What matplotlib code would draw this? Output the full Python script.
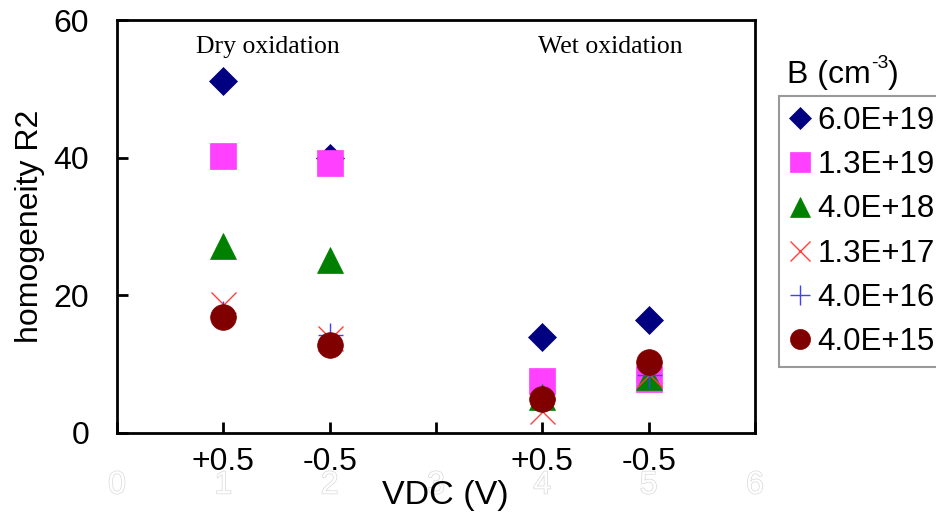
import matplotlib
matplotlib.use("Agg")
import matplotlib.pyplot as plt
import matplotlib.patheffects as pe

# x positions: 1,2 dry oxidation; 4,5 wet oxidation
x_pos = [1, 2, 4, 5]
x_labels = ["+0.5", "-0.5", "+0.5", "-0.5"]
hidden_ticks = [0, 1, 2, 3, 4, 5, 6]

series_names = ["6.0E+19", "1.3E+19", "4.0E+18", "1.3E+17", "4.0E+16", "4.0E+15"]
r2_6e19 = [51.2, 39.9, 13.9, 16.4]
r2_1p3e19 = [40.3, 39.2, 7.5, 7.8]
r2_4e18 = [27.2, 25.2, 5.2, 8.2]
r2_1p3e17 = [18.8, 13.8, 3.2, 8.6]
r2_4e16 = [17.4, 14.2, 5.0, 8.4]
r2_4e15 = [16.8, 12.8, 4.9, 10.3]

values = [r2_6e19, r2_1p3e19, r2_4e18, r2_1p3e17, r2_4e16, r2_4e15]
markers = ["D", "s", "^", "x", "+", "o"]
colors = ["#000080", "#FF40FF", "#008000", "#FF4040", "#4040FF", "#800000"]
sizes = [14, 18.5, 18.5, 18, 18, 18.5]

FS = 23

plt.rcParams["font.family"] = ["Liberation Sans", "DejaVu Sans"]

fig = plt.figure(figsize=(9.36, 5.15), dpi=100)
ax = fig.add_axes([117 / 936, 1 - 433 / 515, (755 - 117) / 936, (433 - 20) / 515])

for name, vals, m, c, s in zip(series_names, values, markers, colors, sizes):
    filled = m not in ("x", "+")
    ax.plot(x_pos, vals, linestyle="none", marker=m, markersize=s,
            color=c, markeredgewidth=1.0 if not filled else 0.5,
            markeredgecolor=c, label=name)

ax.set_xlim(0, 6)
ax.set_ylim(0, 60)
ax.set_yticks([0, 20, 40, 60])
ax.set_xticks(hidden_ticks)
ax.set_xticklabels([str(t) for t in hidden_ticks], color="white",
                   path_effects=[pe.withStroke(linewidth=1.0, foreground="#d8d8d8")])
ax.tick_params(axis="both", direction="in", length=8, width=2, labelsize=FS)
ax.tick_params(axis="x", pad=27)
ax.tick_params(axis="y", pad=20)
for sp in ax.spines.values():
    sp.set_linewidth(2)

for xp, lbl in zip(x_pos, x_labels):
    ax.text(xp, -0.07, lbl, transform=ax.get_xaxis_transform(),
            ha="center", va="center", fontsize=FS)

ax.set_xlabel("VDC (V)", fontsize=24.5)
ax.xaxis.set_label_coords((445 - 117) / 638, -(480 - 433) / 413)
ax.set_ylabel("homogeneity R2", fontsize=FS, labelpad=6)

ax.text(1.42, 0.935, "Dry oxidation", transform=ax.get_xaxis_transform(),
        ha="center", va="center", fontsize=18.5, family="Liberation Serif")
ax.text(4.64, 0.935, "Wet oxidation", transform=ax.get_xaxis_transform(),
        ha="center", va="center", fontsize=18.5, family="Liberation Serif")

# legend box runs off the right edge, as in the original
leg = fig.legend(loc="upper left", bbox_to_anchor=(779 / 936, 1 - 96 / 515),
                 borderaxespad=0, fontsize=22.5, markerscale=0.78,
                 handlelength=0.66, handletextpad=0.24, labelspacing=0.45,
                 borderpad=0.33, fancybox=False, frameon=True)
leg.get_frame().set_edgecolor("#808080")
leg.get_frame().set_linewidth(1.5)

# legend title sits above the box; superscript built by hand to keep a plain hyphen
t1 = fig.text(787 / 936, 1 - 75 / 515, "B (cm", ha="left", va="center", fontsize=FS)
fig.canvas.draw()
bb = t1.get_window_extent()
t2 = fig.text(bb.x1 / fig.bbox.width, 1 - 64 / 515, "-3", ha="left", va="center", fontsize=14)
fig.canvas.draw()
bb2 = t2.get_window_extent()
fig.text(bb2.x1 / fig.bbox.width, 1 - 75 / 515, ")", ha="left", va="center", fontsize=FS)

fig.savefig("out.png", dpi=100)
